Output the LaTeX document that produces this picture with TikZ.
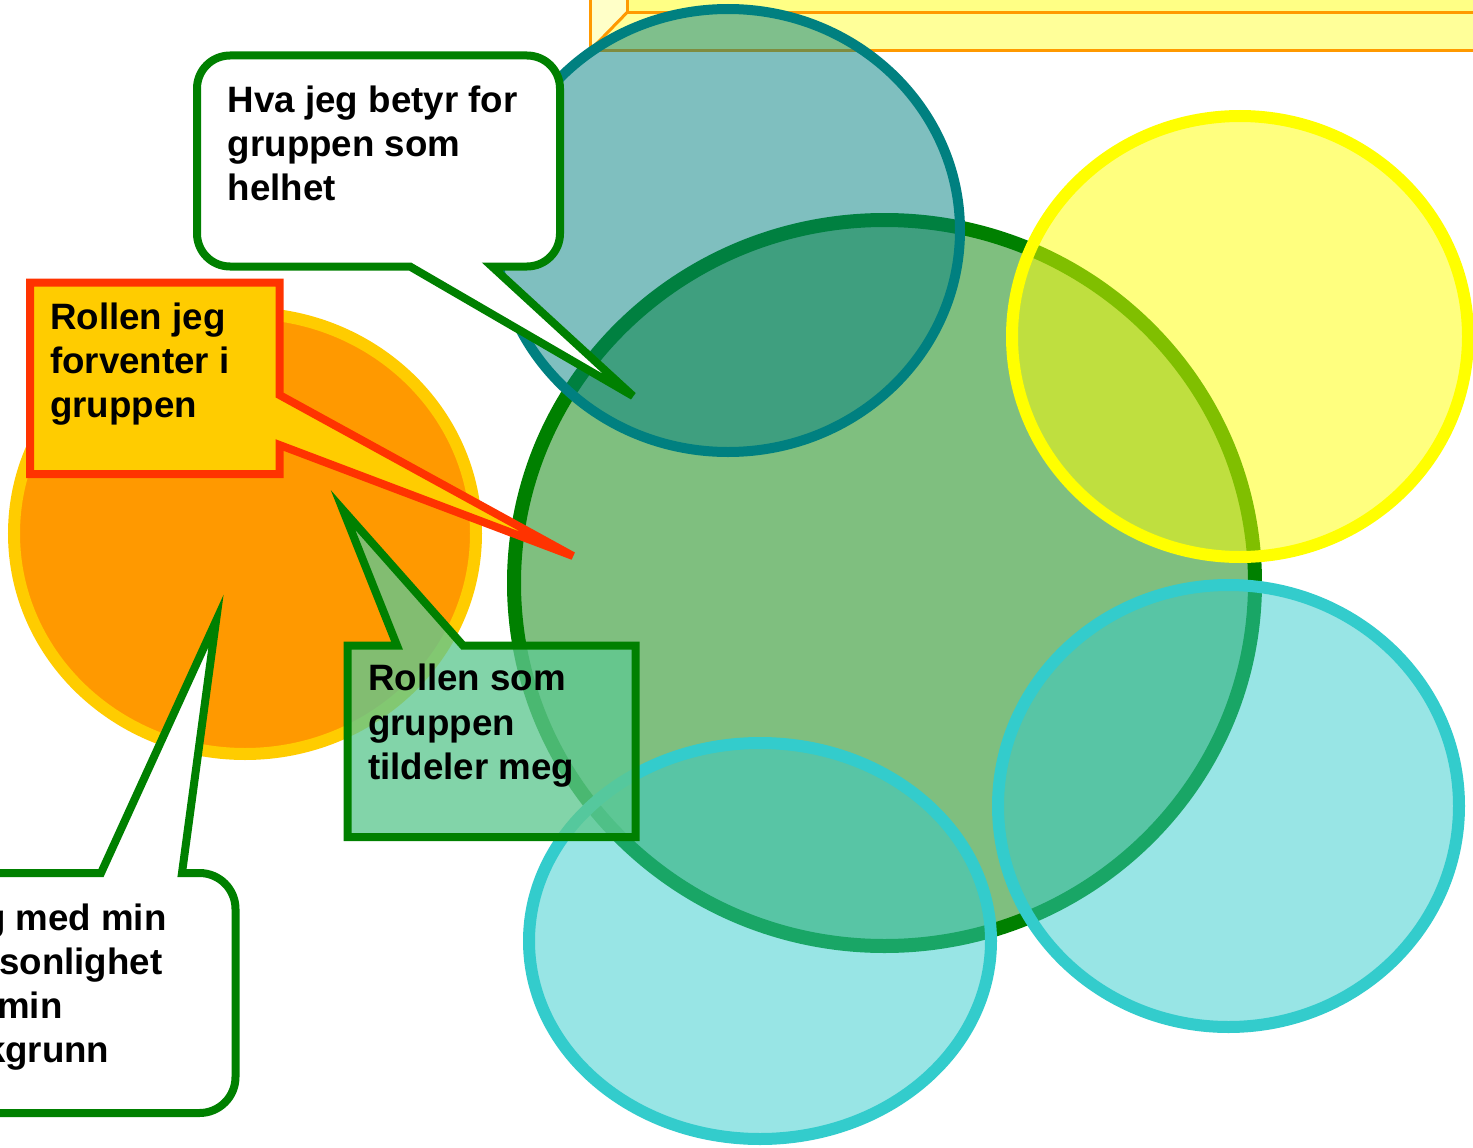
\documentclass[tikz,border=0pt]{standalone}
\usepackage{fontspec}
\setmainfont{Liberation Sans}
\usetikzlibrary{shapes.geometric}
\definecolor{cOrange}{HTML}{FF9900}
\definecolor{cGold}{HTML}{FFCC00}
\definecolor{cRed}{HTML}{FF3300}
\definecolor{cGreen}{HTML}{008000}
\definecolor{cTeal}{HTML}{008080}
\definecolor{cCyan}{HTML}{33CCCC}
\definecolor{cYellow}{HTML}{FFFF00}
\definecolor{cBox}{RGB}{95,200,145}
\definecolor{cFace}{HTML}{FFFF85}
\definecolor{cBand}{HTML}{FFFF99}
\definecolor{cLight}{HTML}{FFFFC8}
\newcommand\cfont{\bfseries\fontsize{36.7}{44.3}\selectfont}
\begin{document}
\begin{tikzpicture}[x=1pt,y=-1pt, miter limit=8,
  oval/.style={ellipse, inner sep=0pt, outer sep=0pt},
  halfblob/.style={oval, draw=#1, fill=#1, fill opacity=0.5, line width=12pt},
  bub/.style={draw=cGreen, fill=white, line width=8pt},
  lbl/.style={anchor=base west, inner sep=0pt, text=black}]
\fill[white] (0,0) rectangle (1473,1148);
\clip (0,0) rectangle (1473,1148);
% bevelled frame at the top
\fill[cBand] (590,-20) rectangle (1500,50.5);
\fill[cLight] (590,-20) -- (627,-20) -- (627,12.5) -- (590,50.5) -- cycle;
\fill[cFace] (627,-20) rectangle (1500,12.5);
\draw[cOrange, line width=3pt] (1500,50.5) -- (590,50.5) -- (590,-20);
\draw[cOrange, line width=3pt] (627,-20) -- (627,12.5) -- (1500,12.5);
\draw[cOrange, line width=3pt] (627,12.5) -- (590,50.5);
% circles
\node[oval, draw=cGold, fill=cOrange, line width=12pt, minimum width=462pt, minimum height=441pt] (orange) at (245,533.5) {};
\node[halfblob=cGreen, line width=14pt, minimum width=741pt, minimum height=726pt] (big) at (884.5,583) {};
\node[halfblob=cTeal, line width=10pt, minimum width=464pt, minimum height=443pt] (teal) at (728,230.5) {};
\node[halfblob=cYellow, minimum width=456pt, minimum height=441pt] (yellow) at (1240,336.5) {};
\node[halfblob=cCyan, minimum width=461pt, minimum height=442pt] (cyanR) at (1228.5,806) {};
\node[halfblob=cCyan, minimum width=462pt, minimum height=396pt] (cyanB) at (760,941) {};
% speech bubble top
\draw[bub] (410,266.5) -- (633,396) -- (492,266.5) -- (527,266.5)
  arc[start angle=90,end angle=0,radius=33] -- (560,88.5)
  arc[start angle=0,end angle=-90,radius=33] -- (230,55.5)
  arc[start angle=270,end angle=180,radius=33] -- (197,233.5)
  arc[start angle=180,end angle=90,radius=33] -- cycle;
\node[lbl] (hva) at (227.7,112) {\parbox[t]{400pt}{\cfont Hva jeg betyr for\\gruppen som\\helhet}};
% red callout
\draw[draw=cRed, fill=cGold, line width=8pt] (30,282.5) -- (279.5,282.5) -- (279.5,395) -- (573,556) -- (279.5,445) -- (279.5,474) -- (30,474) -- cycle;
\node[lbl] (forv) at (50,329.3) {\parbox[t]{400pt}{\cfont Rollen jeg\\forventer i\\gruppen}};
% green callout
\draw[draw=cGreen, fill=cBox, fill opacity=0.78, line width=8pt] (347.5,645.5) -- (397,645.5) -- (343,510) -- (463,645.5) -- (635.5,645.5) -- (635.5,837) -- (347.5,837) -- cycle;
\node[lbl] (tild) at (368,690.7) {\parbox[t]{400pt}{\cfont Rollen som\\gruppen\\tildeler meg}};
% speech bubble bottom left
\draw[bub] (101,873) -- (216,621) -- (182,873) -- (199.5,873)
  arc[start angle=270,end angle=360,radius=36] -- (235.5,1077)
  arc[start angle=0,end angle=90,radius=36] -- (-94,1113)
  arc[start angle=90,end angle=180,radius=36] -- (-130,909)
  arc[start angle=180,end angle=270,radius=36] -- cycle;
\node[lbl] (meg) at (-58,930) {\parbox[t]{400pt}{\cfont Jeg med min\\personlighet\\og min\\bakgrunn}};
\end{tikzpicture}
\end{document}
